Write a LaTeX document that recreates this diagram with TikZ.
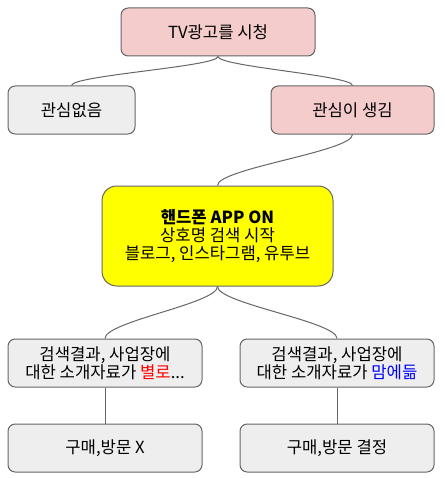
\documentclass[tikz,border=0pt]{standalone}
\usepackage{fontspec}
\setmainfont{Noto Sans CJK KR}
\usepackage{xcolor}
\usepackage{tikz}
\usetikzlibrary{positioning}
\definecolor{adPink}{HTML}{F4CCCC}
\definecolor{adGray}{HTML}{EEEEEE}
\definecolor{adYellow}{HTML}{FFFF00}
\definecolor{adLine}{HTML}{666666}
\newcommand{\badtxt}[1]{\textcolor{red}{#1}}
\newcommand{\goodtxt}[1]{\textcolor{blue}{#1}}
\tikzset{
  pinkbox/.style={draw=adLine,fill=adPink,rounded corners=5.4pt,line width=0.75pt,
    minimum height=36pt,align=center,font=\fontsize{12.5}{13.75}\selectfont},
  graybox/.style={draw=adLine,fill=adGray,rounded corners=5.4pt,line width=0.75pt,
    minimum height=36pt,align=center,font=\fontsize{12.5}{13.75}\selectfont},
  yellowbox/.style={draw=adLine,fill=adYellow,rounded corners=11pt,line width=0.75pt,
    minimum height=75pt,align=center,font=\fontsize{12.5}{13.75}\selectfont},
  link/.style={draw=adLine,line width=0.75pt}
}
\begin{document}
\begin{tikzpicture}[x=0.75pt,y=-0.75pt]
  \useasboundingbox (0,0) rectangle (445,478);
  \node[pinkbox, minimum width=145.5pt] (tv) at (218,32) {TV광고를 시청};
  \node[graybox, minimum width=95.25pt] (nointerest) at (71.5,110) {관심없음};
  \node[pinkbox, minimum width=122.25pt] (interest) at (352.5,110) {관심이 생김};
  \node[yellowbox, minimum width=173.25pt] (phone) at (217.5,236)
    {\textbf{핸드폰 APP ON}\\상호명 검색 시작\\블로그, 인스타그램, 유투브};
  \node[graybox, minimum width=145.5pt] (badinfo) at (105,363)
    {검색결과, 사업장에\\대한 소개자료가 \badtxt{별로}...};
  \node[graybox, minimum width=145.5pt] (goodinfo) at (337,363)
    {검색결과, 사업장에\\대한 소개자료가 \goodtxt{맘에듦}};
  \node[graybox, minimum width=145.5pt, below=27pt of badinfo] (nobuy) {구매,방문 X};
  \node[graybox, minimum width=145.5pt, below=27pt of goodinfo] (buy) {구매,방문 결정};

  \draw[link] (tv.south) .. controls +(0,10) and +(0,-10) .. (nointerest.north);
  \draw[link] (tv.south) .. controls +(0,10) and +(0,-10) .. (interest.north);
  \draw[link] (interest.south) .. controls +(0,17) and +(0,-17) .. (phone.north);
  \draw[link] (phone.south) .. controls +(0,17) and +(0,-17) .. (badinfo.north);
  \draw[link] (phone.south) .. controls +(0,17) and +(0,-17) .. (goodinfo.north);
  \draw[link] (badinfo) -- (nobuy);
  \draw[link] (goodinfo) -- (buy);
\end{tikzpicture}
\end{document}
